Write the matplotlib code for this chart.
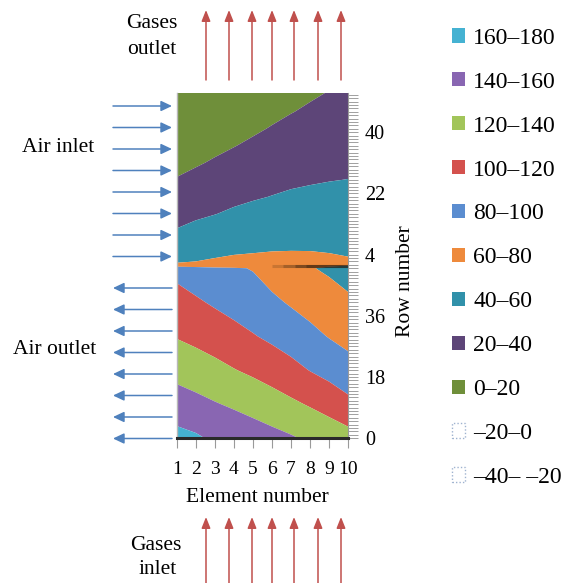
import numpy as np
import matplotlib
matplotlib.use("Agg")
import matplotlib.pyplot as plt
from matplotlib.patches import Patch, FancyArrowPatch
from matplotlib.ticker import FixedLocator, MultipleLocator, FixedFormatter

# ---------------- data ----------------
elements = [1, 2, 3, 4, 5, 6, 7, 8, 9, 10]
element_labels = ["1", "2", "3", "4", "5", "6", "7", "8", "9", "10"]

# lower half of the heater (air outlet side), row positions on the plot
lower_rows = [0, 10, 20, 30, 40, 50]
lower_temps = [
    [166.0, 162.7, 157.0, 153.9, 150.0, 146.0, 142.0, 137.0, 132.8, 127.7],
    [149.4, 145.6, 141.3, 137.4, 133.2, 128.6, 123.5, 118.3, 112.2, 105.0],
    [133.6, 129.6, 125.4, 120.8, 116.5, 111.5, 105.8, 99.4, 93.8, 87.3],
    [118.9, 115.2, 111.1, 106.4, 101.2, 96.2, 91.0, 85.2, 79.0, 74.1],
    [106.8, 102.4, 97.6, 92.9, 88.8, 83.5, 78.0, 72.7, 68.5, 63.2],
    [94.7, 89.7, 84.0, 82.0, 79.0, 72.0, 67.0, 61.2, 57.0, 52.4],
]

# upper half (air inlet side)
upper_rows = [51, 56, 61, 66, 71, 76, 81, 86, 91, 96, 101.6]
upper_temps = [
    [61.2, 61.7, 63.1, 64.2, 64.5, 64.8, 64.6, 64.2, 63.3, 62.1],
    [51.1, 53.2, 55.3, 57.0, 57.9, 58.7, 59.0, 59.0, 58.5, 57.7],
    [41.0, 44.6, 47.4, 49.7, 51.3, 52.6, 53.4, 53.8, 53.7, 53.3],
    [34.0, 37.1, 39.6, 42.5, 44.7, 46.5, 47.8, 48.5, 48.9, 48.9],
    [27.3, 30.7, 33.7, 36.3, 38.5, 40.4, 42.2, 43.3, 44.1, 44.6],
    [20.7, 24.3, 27.7, 30.7, 33.3, 35.5, 37.3, 38.5, 39.5, 40.2],
    [16.4, 18.4, 21.7, 25.1, 28.1, 30.6, 32.9, 34.4, 35.5, 36.5],
    [12.8, 14.5, 16.5, 19.5, 22.8, 25.8, 28.4, 30.3, 31.5, 33.0],
    [9.6, 11.5, 13.0, 14.5, 17.7, 21.0, 23.9, 26.2, 27.5, 29.5],
    [7.0, 9.0, 10.5, 12.0, 14.0, 16.4, 19.5, 22.1, 24.0, 26.5],
    [5.0, 7.0, 8.5, 10.0, 11.5, 13.0, 15.0, 18.0, 20.5, 23.5],
]

row_tick_positions = [0, 18, 36, 54, 72, 90]
row_tick_labels = ["0", "18", "36", "4", "22", "40"]

levels = [-40, -20, 0, 20, 40, 60, 80, 100, 120, 140, 160, 180]
band_labels = ["160–180", "140–160", "120–140", "100–120", "80–100", "60–80",
               "40–60", "20–40", "0–20", "–20–0", "–40– –20"]
# colours from the lowest band (-40..-20) to the highest (160..180)
band_colors = ["#ffffff", "#ffffff", "#6f8f3a", "#5d4578", "#3191aa", "#ee8a3c",
               "#5b8dd0", "#d4514d", "#a2c55a", "#8966b2", "#45b2d2"]

# ---------------- figure ----------------
W, H = 574, 583
SERIF = ["Liberation Serif", "DejaVu Serif"]
plt.rcParams["font.family"] = SERIF

fig = plt.figure(figsize=(W / 100, H / 100), dpi=100)


def fx(x):
    return x / W


def fy(y):
    return 1 - y / H


ax = fig.add_axes([fx(176.7), fy(438.3), (348.3 - 176.7) / W, (438.3 - 92.7) / H])

rows = lower_rows + upper_rows
Z = np.array(lower_temps + upper_temps)
ax.contourf(elements, rows, Z, levels=levels, colors=band_colors, antialiased=True)

ax.set_xlim(1, 10)
ax.set_ylim(0, 101.6)

# dark seam artefact between the two halves
seam_row = 50.6
for start, a in [(6.0, 0.18), (6.6, 0.22), (7.2, 0.3), (7.8, 0.3)]:
    ax.plot([start, 10], [seam_row, seam_row], color="#24160a", alpha=a,
            lw=2.2, solid_capstyle="butt")

# axes styling
ax.spines["top"].set_visible(False)
ax.spines["left"].set_color("#b8b8b8")
ax.spines["left"].set_linewidth(1.0)
ax.spines["right"].set_color("#9a9a9a")
ax.spines["right"].set_linewidth(0.8)
ax.spines["bottom"].set_color("#2a2a2a")
ax.spines["bottom"].set_linewidth(2.2)

ax.xaxis.set_major_locator(FixedLocator(elements))
ax.xaxis.set_major_formatter(FixedFormatter(element_labels))
ax.tick_params(axis="x", which="major", length=7, width=0.8, color="#9a9a9a",
               labelsize=14, pad=9)

ax.yaxis.set_major_locator(FixedLocator(row_tick_positions))
ax.yaxis.set_major_formatter(FixedFormatter(row_tick_labels))
ax.yaxis.set_minor_locator(MultipleLocator(1))
ax.tick_params(axis="y", which="both", left=False, right=True, labelleft=False,
               labelright=True, length=7, width=0.7, color="#a0a0a0",
               labelsize=14.5, pad=5)

# axis titles
fig.text(fx(257), fy(497), "Element number", ha="center", va="center", fontsize=15.5)
fig.text(fx(406), fy(281), "Row number", ha="center", va="center", fontsize=15.5,
         rotation=90)

# side annotations
fig.text(fx(152), fy(23), "Gases", ha="center", va="center", fontsize=15.5)
fig.text(fx(152), fy(49), "outlet", ha="center", va="center", fontsize=15.5)
fig.text(fx(156), fy(545), "Gases", ha="center", va="center", fontsize=15.5)
fig.text(fx(158), fy(569), "inlet", ha="center", va="center", fontsize=15.5)
fig.text(fx(58), fy(147), "Air inlet", ha="center", va="center", fontsize=15.5)
fig.text(fx(55), fy(349), "Air outlet", ha="center", va="center", fontsize=15.5)

blue = "#4f81bd"
red = "#c0504d"
inlet_y = [106, 127.5, 149, 170.5, 192, 213.5, 235, 256.5]
outlet_y = [288, 309.5, 331, 352.5, 374, 395.5, 417, 438.5]
for y in inlet_y:
    fig.add_artist(FancyArrowPatch((fx(113), fy(y)), (fx(172), fy(y)),
                                   transform=fig.transFigure,
                                   arrowstyle="-|>,head_length=0.55,head_width=0.26",
                                   mutation_scale=12, color=blue, lw=1.1,
                                   shrinkA=0, shrinkB=0))
for y in outlet_y:
    fig.add_artist(FancyArrowPatch((fx(172), fy(y)), (fx(113), fy(y)),
                                   transform=fig.transFigure,
                                   arrowstyle="-|>,head_length=0.55,head_width=0.26",
                                   mutation_scale=12, color=blue, lw=1.1,
                                   shrinkA=0, shrinkB=0))

gas_x = [206, 229, 252, 272, 294, 318, 341]
for x in gas_x:
    fig.add_artist(FancyArrowPatch((fx(x), fy(80)), (fx(x), fy(10)),
                                   transform=fig.transFigure,
                                   arrowstyle="-|>,head_length=0.55,head_width=0.22",
                                   mutation_scale=12, color=red, lw=1.1,
                                   shrinkA=0, shrinkB=0))
    fig.add_artist(FancyArrowPatch((fx(x), fy(583)), (fx(x), fy(517)),
                                   transform=fig.transFigure,
                                   arrowstyle="-|>,head_length=0.55,head_width=0.22",
                                   mutation_scale=12, color=red, lw=1.1,
                                   shrinkA=0, shrinkB=0))

# legend (highest band first)
handles = []
for i, lab in enumerate(band_labels):
    c = band_colors[len(band_colors) - 1 - i]
    if c == "#ffffff":
        handles.append(Patch(facecolor="white", edgecolor="#9fb3d0",
                             linestyle=(0, (1, 1.5)), linewidth=1.0))
    else:
        handles.append(Patch(facecolor=c, edgecolor="none"))
fig.legend(handles, band_labels, loc="upper left",
           bbox_to_anchor=(fx(440), fy(16)), frameon=False, fontsize=17,
           handlelength=0.55, handleheight=0.55, handletextpad=0.35,
           labelspacing=0.97, borderpad=0.0)

fig.savefig("out.png", dpi=100)
